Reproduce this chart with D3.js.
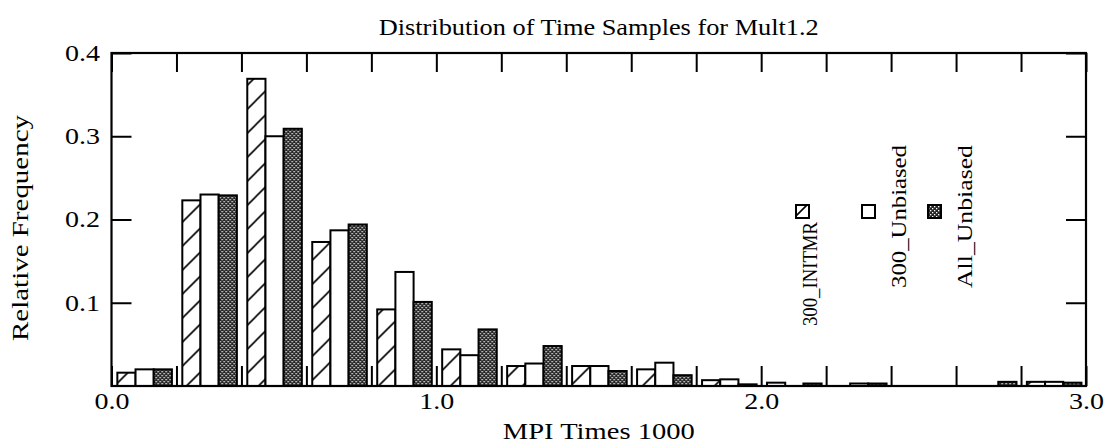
<!DOCTYPE html>
<html>
<head>
<meta charset="utf-8">
<script src="https://cdn.jsdelivr.net/npm/d3@7"></script>
<style>
  body { margin: 0; background: #fff; }
  text { font-family: "Liberation Serif", "Times New Roman", serif; fill: #000; }
</style>
</head>
<body>
<svg id="chart" width="1107" height="444"></svg>
<script>
// bins of width 0.2 on MPI Times 1000
var binStarts = [0.0, 0.2, 0.4, 0.6, 0.8, 1.0, 1.2, 1.4, 1.6, 1.8, 2.0, 2.2, 2.4, 2.6, 2.8];
var seriesNames = ["300_INITMR", "300_Unbiased", "All_Unbiased"];
var initmr   = [0.016, 0.223, 0.369, 0.173, 0.092, 0.044, 0.024, 0.024, 0.020, 0.007, 0.004, 0.000, 0.000, 0.000, 0.005];
var unbiased = [0.020, 0.230, 0.300, 0.187, 0.137, 0.037, 0.027, 0.024, 0.028, 0.008, 0.000, 0.003, 0.000, 0.000, 0.005];
var allUnb   = [0.020, 0.229, 0.309, 0.194, 0.101, 0.068, 0.048, 0.018, 0.013, 0.002, 0.003, 0.003, 0.000, 0.005, 0.004];
var yTicks = [0.1, 0.2, 0.3, 0.4];

var svg = d3.select("#chart"),
    margin = {top: 53, right: 21, bottom: 58, left: 111.5},
    width = +svg.attr("width") - margin.left - margin.right,
    height = +svg.attr("height") - margin.top - margin.bottom,
    g = svg.append("g").attr("transform", "translate(" + margin.left + "," + margin.top + ")");

var x = d3.scaleLinear().domain([0, 3]).range([0, width]);
var y = d3.scaleLinear().domain([0, 0.4]).range([height, 0]);

// fill patterns
var defs = svg.append("defs");
var hatch = defs.append("pattern")
    .attr("id", "hatch")
    .attr("patternUnits", "userSpaceOnUse")
    .attr("width", 24).attr("height", 24);
hatch.append("rect").attr("width", 24).attr("height", 24).attr("fill", "#fff");
hatch.append("path")
    .attr("d", "M-4,4 L4,-4 M0,24 L24,0 M20,28 L28,20")
    .attr("stroke", "#000").attr("stroke-width", 1.6);

var dots = defs.append("pattern")
    .attr("id", "dots")
    .attr("patternUnits", "userSpaceOnUse")
    .attr("width", 4).attr("height", 4);
dots.append("rect").attr("width", 4).attr("height", 4).attr("fill", "#262626");
dots.append("rect").attr("x", 0).attr("y", 0).attr("width", 1.3).attr("height", 1.3).attr("fill", "#fff");
dots.append("rect").attr("x", 2).attr("y", 2).attr("width", 1.3).attr("height", 1.3).attr("fill", "#fff");

var fills = ["url(#hatch)", "#fff", "url(#dots)"];
var table = [initmr, unbiased, allUnb];

var offset = 0.018, barW = 0.056;

table.forEach(function(vals, k) {
  g.append("g")
      .attr("class", "serie")
    .selectAll("rect")
    .data(vals.map(function(v, i) { return {b: binStarts[i], v: v}; })
              .filter(function(d) { return d.v > 0; }))
    .enter().append("rect")
      .attr("x", function(d) { return x(d.b + offset + k * barW); })
      .attr("y", function(d) { return y(d.v); })
      .attr("width", x(barW) - x(0))
      .attr("height", function(d) { return y(0) - y(d.v); })
      .attr("fill", fills[k])
      .attr("stroke", "#000")
      .attr("stroke-width", 2);
});

// axes, ticks pointing inward
var xTickVals = d3.range(0, 16).map(function(i) { return i * 0.2; });
var fmt = d3.format(".1f");

g.append("g")
    .attr("class", "axis axis--x")
    .attr("transform", "translate(0," + height + ")")
    .call(d3.axisBottom(x).tickValues(xTickVals).tickSize(-20).tickPadding(7)
      .tickFormat(function(d) { return Math.abs(d - Math.round(d)) < 1e-6 ? fmt(d) : ""; }));

g.append("g")
    .attr("class", "axis axis--top")
    .call(d3.axisTop(x).tickValues(xTickVals).tickSize(-19).tickFormat(""));

g.append("g")
    .attr("class", "axis axis--y")
    .call(d3.axisLeft(y).tickValues(yTicks).tickSize(-20).tickPadding(11.5).tickFormat(fmt));

g.append("g")
    .attr("class", "axis axis--right")
    .attr("transform", "translate(" + width + ",0)")
    .call(d3.axisRight(y).tickValues(yTicks).tickSize(-20).tickFormat(""));

g.selectAll(".axis .domain").remove();
g.selectAll(".axis line").attr("stroke", "#000").attr("stroke-width", 2);
g.selectAll(".axis text")
    .style("font-family", "'Liberation Serif', serif")
    .style("font-size", "23px")
    .attr("fill", "#000")
    .filter(function() { return this.textContent !== ""; })
    .attr("textLength", 35)
    .attr("lengthAdjust", "spacingAndGlyphs");

g.append("rect")
    .attr("width", width)
    .attr("height", height)
    .attr("fill", "none")
    .attr("stroke", "#000")
    .attr("stroke-width", 2.2);

// titles
svg.append("text")
    .attr("x", margin.left + width / 2)
    .attr("y", 35)
    .attr("text-anchor", "middle")
    .attr("textLength", 440)
    .attr("lengthAdjust", "spacingAndGlyphs")
    .style("font-size", "24px")
    .text("Distribution of Time Samples for Mult1.2");

svg.append("text")
    .attr("x", margin.left + width / 2)
    .attr("y", 439)
    .attr("text-anchor", "middle")
    .attr("textLength", 192)
    .attr("lengthAdjust", "spacingAndGlyphs")
    .style("font-size", "23px")
    .text("MPI Times 1000");

svg.append("text")
    .attr("transform", "translate(28,228) rotate(-90)")
    .attr("text-anchor", "middle")
    .attr("textLength", 226)
    .attr("lengthAdjust", "spacingAndGlyphs")
    .style("font-size", "23px")
    .text("Relative Frequency");

// legend: swatch beside a rotated label
var labelLen = [104, 143, 143],
    labelBottom = [326, 288, 288];
var legend = svg.selectAll(".legend")
    .data(seriesNames)
    .enter().append("g")
      .attr("class", "legend")
      .attr("transform", function(d, i) { return "translate(" + (796 + i * 66) + ",0)"; });

legend.append("rect")
    .attr("x", 0)
    .attr("y", 205)
    .attr("width", 13)
    .attr("height", 13)
    .attr("fill", function(d, i) { return fills[i]; })
    .attr("stroke", "#000")
    .attr("stroke-width", 2);

legend.append("text")
    .attr("transform", function(d, i) { return "translate(" + (i === 0 ? 21 : 44) + "," + labelBottom[i] + ") rotate(-90)"; })
    .attr("text-anchor", "start")
    .attr("textLength", function(d, i) { return labelLen[i]; })
    .attr("lengthAdjust", "spacingAndGlyphs")
    .style("font-size", "21px")
    .text(function(d) { return d; });
</script>
</body>
</html>
